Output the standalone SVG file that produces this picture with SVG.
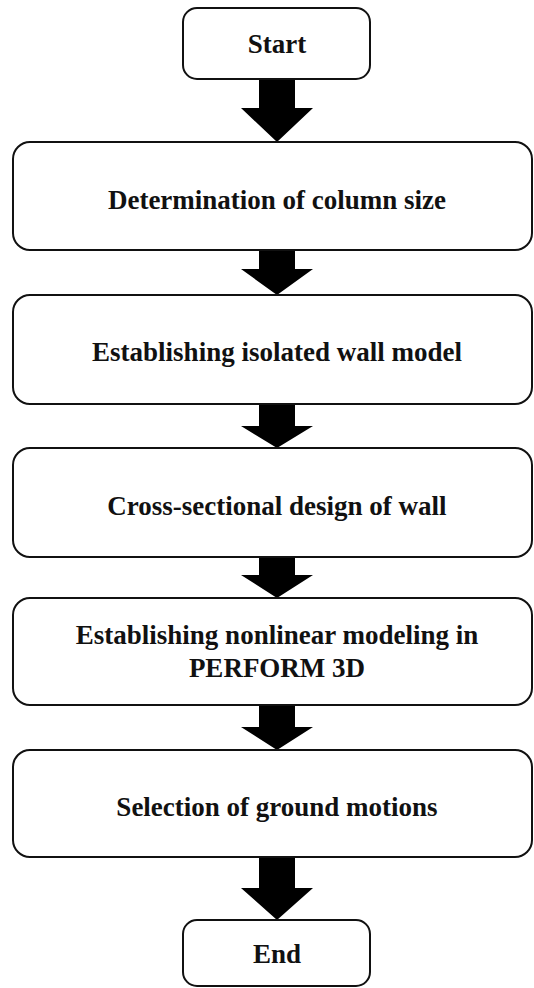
<svg xmlns="http://www.w3.org/2000/svg" width="534" height="988" viewBox="0 0 534 988">
<style>
.box{fill:#fff;stroke:#111;stroke-width:2}
.lbl{font-family:"Liberation Serif","Times New Roman",serif;font-weight:bold;font-size:27px;fill:#111;text-anchor:middle}
.arr{fill:#000;stroke:none}
</style>
<rect width="534" height="988" fill="#fff"/>
<g id="connectors">
<path class="arr" d="M259,79 H295 V108 H313 L277,142 L241,108 H259 Z"/>
<path class="arr" d="M259,250 H295 V269 H313 L277,295 L241,269 H259 Z"/>
<path class="arr" d="M259,404 H295 V426 H313 L277,448 L241,426 H259 Z"/>
<path class="arr" d="M259,557 H295 V575 H313 L277,598 L241,575 H259 Z"/>
<path class="arr" d="M259,705 H295 V727 H313 L277,750 L241,727 H259 Z"/>
<path class="arr" d="M259,857 H295 V888 H313 L277,920 L241,888 H259 Z"/>
</g>
<g id="start">
<rect class="box" x="183" y="8" width="187" height="71" rx="14"/>
<text class="lbl" x="277" y="53">Start</text>
</g>
<g id="column-size">
<rect class="box" x="13" y="142" width="519" height="108" rx="17"/>
<text class="lbl" x="277" y="209">Determination of column size</text>
</g>
<g id="wall-model">
<rect class="box" x="13" y="295" width="519" height="109" rx="17"/>
<text class="lbl" x="277" y="361">Establishing isolated wall model</text>
</g>
<g id="cross-section">
<rect class="box" x="13" y="448" width="519" height="109" rx="17"/>
<text class="lbl" x="277" y="515">Cross-sectional design of wall</text>
</g>
<g id="nonlinear">
<rect class="box" x="13" y="598" width="519" height="107" rx="17"/>
<text class="lbl" x="277" y="644">Establishing nonlinear modeling in</text>
<text class="lbl" x="277" y="677">PERFORM 3D</text>
</g>
<g id="ground-motions">
<rect class="box" x="13" y="750" width="519" height="107" rx="17"/>
<text class="lbl" x="277" y="816">Selection of ground motions</text>
</g>
<g id="end">
<rect class="box" x="183" y="920" width="187" height="66" rx="14"/>
<text class="lbl" x="277" y="963">End</text>
</g>
</svg>
